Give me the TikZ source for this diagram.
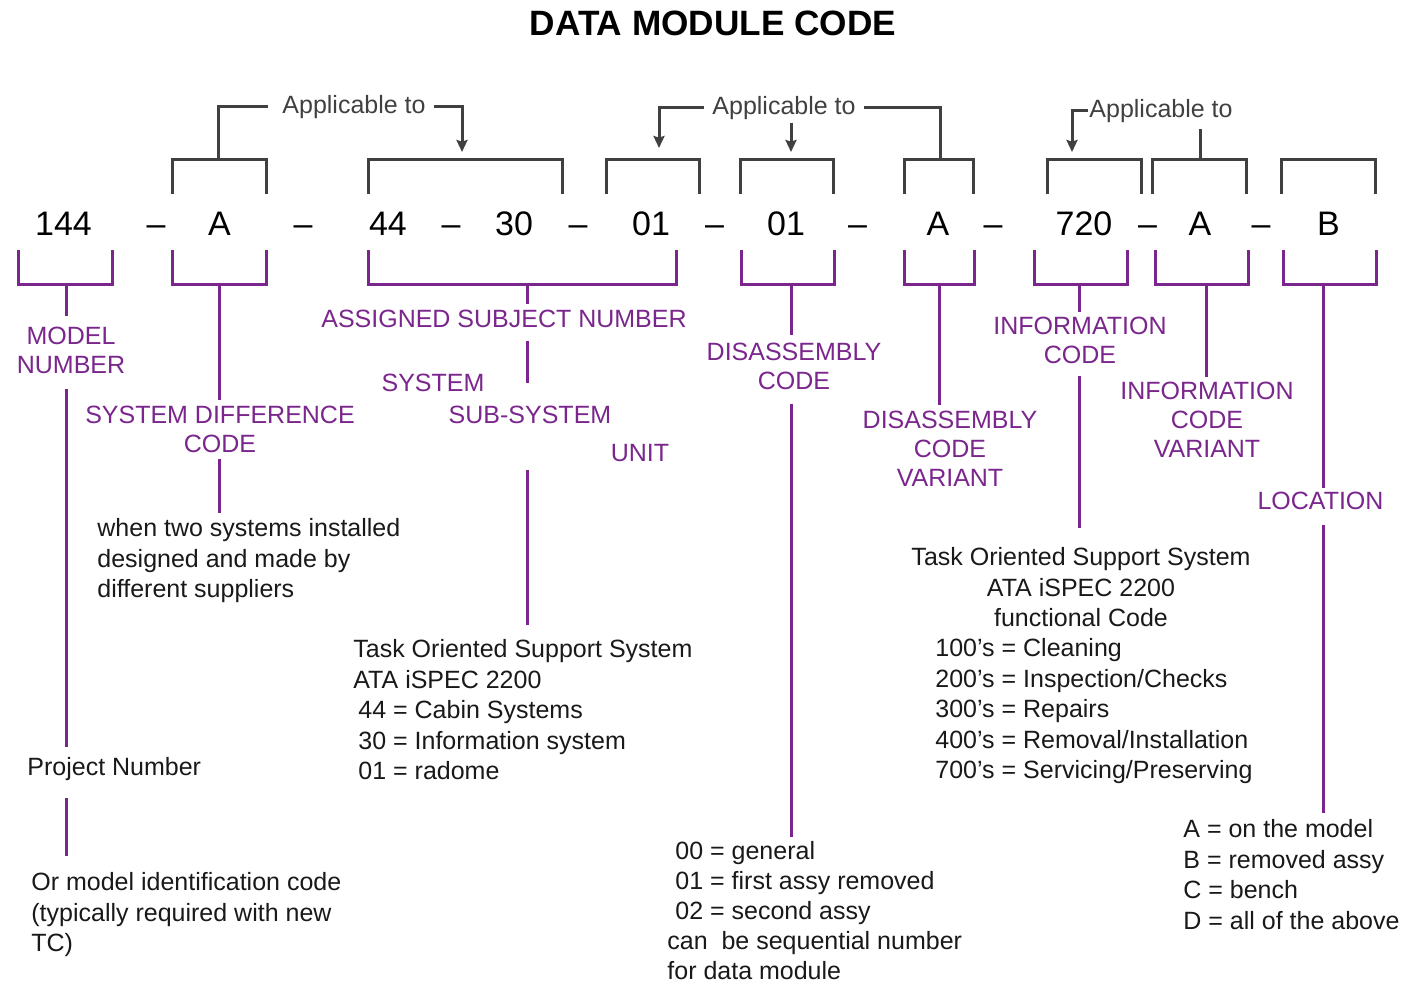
\documentclass[tikz,border=0pt]{standalone}
\usepackage{fontspec}
\setmainfont{Liberation Sans}
\usetikzlibrary{arrows.meta}

\definecolor{dmpurple}{RGB}{122,38,140}
\definecolor{guidegray}{RGB}{64,64,64}
\definecolor{inkblack}{RGB}{25,25,25}

\tikzset{
  code/.style={font=\fontsize{17}{20}\selectfont, anchor=base, inner sep=0pt},
  app/.style={text=guidegray, font=\fontsize{12.5}{15}\selectfont, anchor=base, inner sep=4pt},
  lbl/.style={text=dmpurple, font=\fontsize{12.5}{14.5}\selectfont, align=center, anchor=north, inner sep=0pt},
  note/.style={text=inkblack, font=\fontsize{12.5}{15.25}\selectfont, align=left, anchor=north west, inner sep=0pt},
  guide/.style={draw=guidegray, line width=1.5pt},
  pointer/.style={guide, -{Stealth[length=6pt, width=5.5pt, inset=0.8pt]}},
  stem/.style={draw=dmpurple, line width=1.5pt},
}

\begin{document}
\begin{tikzpicture}[x=0.5pt, y=-0.5pt]
\useasboundingbox (0,0) rectangle (1425,985);

\node[font=\bfseries\fontsize{17.6}{20}\selectfont, anchor=base, inner sep=0pt] (title) at (713,35) {DATA MODULE CODE};

% the code itself
\node[code] (c144) at (63.5,235) {144};
\node[code] (d1) at (156,235) {–};
\node[code] (cA1) at (219.5,235) {A};
\node[code] (d2) at (303,235) {–};
\node[code] (c44) at (388,235) {44};
\node[code] (d3) at (451,235) {–};
\node[code] (c30) at (514,235) {30};
\node[code] (d4) at (578,235) {–};
\node[code] (c01a) at (651,235) {01};
\node[code] (d5) at (714.5,235) {–};
\node[code] (c01b) at (786,235) {01};
\node[code] (d6) at (857.5,235) {–};
\node[code] (cA2) at (938,235) {A};
\node[code] (d7) at (993,235) {–};
\node[code] (c720) at (1084,235) {720};
\node[code] (d8) at (1147.5,235) {–};
\node[code] (cA3) at (1200,235) {A};
\node[code] (d9) at (1261,235) {–};
\node[code] (cB) at (1328.5,235) {B};

% brackets above and below
\foreach \l/\r in {172/266, 368/562, 606/699, 740/833, 904/973, 1047/1141, 1152/1246, 1281/1375}
  \draw[guide] (\l,194) |- (\r,159) -- (\r,194);
\foreach \l/\r in {18/112, 172/266, 368/676, 741/834, 904/974, 1034/1127, 1155/1248, 1283/1376}
  \draw[stem] (\l,250) |- (\r,284) -- (\r,250);

\coordinate (tA) at (218,159);
\coordinate (t44) at (462,159);
\coordinate (t01a) at (659,159);
\coordinate (t01b) at (791,159);
\coordinate (tA2) at (940,159);
\coordinate (t720) at (1072,159);
\coordinate (tIcv) at (1200,159);

\coordinate (b144) at (66,284);
\coordinate (bA) at (219,284);
\coordinate (bAsn) at (527,284);
\coordinate (bDc) at (791,284);
\coordinate (bDcv) at (939,284);
\coordinate (bIc) at (1079,284);
\coordinate (bIcv) at (1206,284);
\coordinate (bLoc) at (1323,284);

% applicable to
\node[app] (app1) at (354,113) {Applicable to};
\node[app] (app2) at (784,114) {Applicable to};
\node[app, inner sep=0.5pt] (app3) at (1161,117) {Applicable to};

\draw[guide, shorten >=3pt] (tA) |- (app1.west);
\draw[pointer, shorten >=3.5pt] (app1.east) -| (t44);
\draw[pointer, shorten >=5.5pt] (app2.west) -| (t01a);
\draw[pointer, shorten <=-2.5pt, shorten >=3.5pt] (app2.south -| t01b) -- (t01b);
\draw[guide] (app2.east) -| (tA2);
\draw[pointer, shorten >=3.5pt] (app3.west) -| (t720);
\draw[guide, shorten <=2.5pt] (app3.south -| tIcv) -- (tIcv);

% purple labels
\node[lbl] (modnum) at (71,327) {MODEL\\NUMBER};
\node[lbl] (sysdiff) at (220,406) {SYSTEM DIFFERENCE\\CODE};
\node[lbl] (asn) at (504,310) {ASSIGNED SUBJECT NUMBER};
\node[lbl] (system) at (433,374) {SYSTEM};
\node[lbl] (subsys) at (530,406) {SUB-SYSTEM};
\node[lbl] (unit) at (640,444) {UNIT};
\node[lbl] (discode) at (794,343) {DISASSEMBLY\\CODE};
\node[lbl] (disvar) at (950,411) {DISASSEMBLY\\CODE\\VARIANT};
\node[lbl] (infocode) at (1080,317) {INFORMATION\\CODE};
\node[lbl] (infovar) at (1207,382) {INFORMATION\\CODE\\VARIANT};
\node[lbl] (location) at (1320.5,492) {LOCATION};

% explanations
\node[note] (twosys) at (97,518) {when two systems installed\\designed and made by\\different suppliers};
\node[note] (projnum) at (27,757) {Project Number};
\node[note] (modid) at (31,872) {Or model identification code\\(typically required with new\\TC)};
\node[note] (ataleft) at (353,639) {Task Oriented Support System\\ATA iSPEC 2200\\\hspace*{2.5pt}44 = Cabin Systems\\\hspace*{2.5pt}30 = Information system\\\hspace*{2.5pt}01 = radome};
\node[note, font=\fontsize{12.5}{15}\selectfont] (discodes) at (667,841) {\hspace*{4pt}00 = general\\\hspace*{4pt}01 = first assy removed\\\hspace*{4pt}02 = second assy\\can\ \ be sequential number\\for data module};
\node[note, align=center, anchor=north] (atatask) at (1081,547) {Task Oriented Support System\\ATA iSPEC 2200\\functional Code};
\node[note] (atalist) at (935,638) {100’s = Cleaning\\200’s = Inspection/Checks\\300’s = Repairs\\400’s = Removal/Installation\\700’s = Servicing/Preserving};
\node[note] (locs) at (1183,819) {A = on the model\\B = removed assy\\C = bench\\D = all of the above};

% stems
\draw[stem, shorten >=5.5pt] (b144) -- (b144 |- modnum.north);
\draw[stem, shorten <=7pt, shorten >=5pt] (b144 |- modnum.south) -- (b144 |- projnum.north);
\draw[stem, shorten <=8.5pt, shorten >=8pt] (b144 |- projnum.south) -- (b144 |- modid.north);
\draw[stem, shorten >=3pt] (bA) -- (bA |- sysdiff.north);
\draw[stem, shorten <=2.5pt, shorten >=2.5pt] (bA |- sysdiff.south) -- (bA |- twosys.north);
\draw[stem, shorten >=3pt] (bAsn) -- (bAsn |- asn.north);
\draw[stem, shorten <=6pt, shorten >=11.5pt] (bAsn |- asn.south) -- (bAsn |- subsys.north);
\draw[stem, shorten <=4pt, shorten >=7pt] (bAsn |- unit.south) -- (bAsn |- ataleft.north);
\draw[stem, shorten >=4pt] (bDc) -- (bDc |- discode.north);
\draw[stem, shorten <=6.5pt, shorten >=2pt] (bDc |- discode.south) -- (bDc |- discodes.north);
\draw[stem, shorten >=3pt] (bDcv) -- (bDcv |- disvar.north);
\draw[stem, shorten >=2.5pt] (bIc) -- (bIc |- infocode.north);
\draw[stem, shorten <=5.5pt, shorten >=9.5pt] (bIc |- infocode.south) -- (bIc |- atatask.north);
\draw[stem, shorten >=2.5pt] (bIcv) -- (bIcv |- infovar.north);
\draw[stem, shorten >=2pt] (bLoc) -- (bLoc |- location.north);
\draw[stem, shorten <=7pt, shorten >=3pt] (bLoc |- location.south) -- (bLoc |- locs.north);
\end{tikzpicture}
\end{document}
